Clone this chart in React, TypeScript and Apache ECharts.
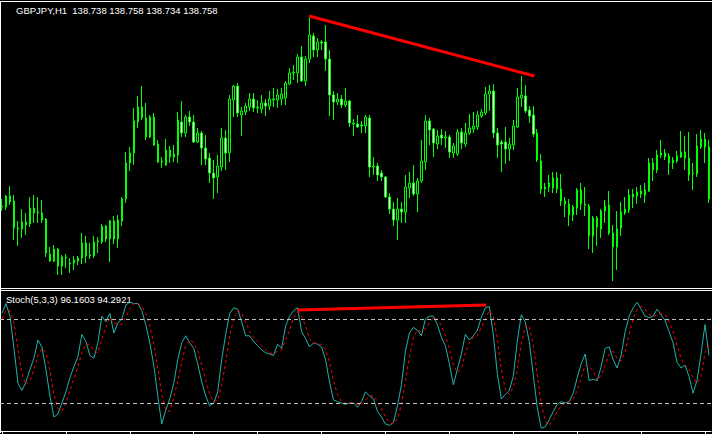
import React, { useEffect, useRef } from "react";
import * as echarts from "echarts";

// GBPJPY H1 candles (prices)
const openP = [
  138.93, 138.93, 139.04, 138.99, 138.72, 138.71, 138.78, 138.76, 138.92, 138.87,
  138.87, 138.81, 138.46, 138.39, 138.51, 138.34, 138.43, 138.37, 138.37, 138.39,
  138.42, 138.57, 138.44, 138.44, 138.58, 138.58, 138.74, 138.61, 138.79, 138.61,
  138.79, 139.01, 139.37, 139.47, 139.78, 139.93, 139.82, 139.63, 139.83, 139.56,
  139.38, 139.35, 139.5, 139.43, 139.45, 139.78, 139.67, 139.83, 139.78, 139.58,
  139.67, 139.52, 139.42, 139.27, 139.23, 139.33, 139.62, 139.47, 140.0, 140.14,
  139.85, 139.88, 139.93, 140.01, 139.92, 139.91, 139.97, 139.94, 140.0, 140.0,
  140.01, 140.02, 140.16, 140.27, 140.27, 140.43, 140.19, 140.41, 140.64, 140.5,
  140.58, 140.58, 140.41, 140.05, 139.98, 140.01, 139.95, 139.99, 139.76, 139.76,
  139.75, 139.74, 139.82, 139.33, 139.34, 139.27, 139.23, 139.03, 138.91, 138.8,
  138.91, 138.88, 139.12, 139.17, 139.06, 139.19, 139.38, 139.79, 139.71, 139.56,
  139.65, 139.62, 139.63, 139.47, 139.46, 139.68, 139.56, 139.67, 139.71, 139.73,
  139.84, 139.87, 140.06, 140.09, 139.67, 139.58, 139.58, 139.51, 139.55, 139.73,
  140.02, 140.04, 139.9, 139.85, 139.67, 139.39, 139.11, 139.13, 139.12, 139.22,
  139.11, 138.99, 138.96, 138.85, 138.92, 139.1, 138.96, 138.94, 138.64, 138.82,
  138.71, 138.89, 138.95, 138.67, 138.53, 138.72, 138.87, 138.9, 139.03, 139.04,
  139.06, 139.05, 139.09, 139.37, 139.3, 139.45, 139.47, 139.44, 139.37, 139.39,
  139.43, 139.48, 139.42, 139.27, 139.26, 139.53, 139.61, 139.53,
];
const closeP = [
  138.94, 139.04, 138.98, 138.72, 138.71, 138.78, 138.75, 138.92, 138.87, 138.88,
  138.8, 138.47, 138.39, 138.51, 138.34, 138.43, 138.42, 138.36, 138.4, 138.42,
  138.57, 138.44, 138.45, 138.58, 138.59, 138.74, 138.61, 138.79, 138.61, 138.8,
  139.01, 139.37, 139.47, 139.79, 139.93, 139.82, 139.63, 139.83, 139.55, 139.38,
  139.39, 139.5, 139.43, 139.46, 139.8, 139.67, 139.83, 139.78, 139.58, 139.67,
  139.52, 139.41, 139.27, 139.22, 139.34, 139.62, 139.47, 140.01, 140.14, 139.87,
  139.89, 139.94, 140.01, 139.92, 139.93, 139.97, 139.94, 140.01, 140.01, 140.05,
  140.06, 140.17, 140.27, 140.28, 140.43, 140.19, 140.41, 140.65, 140.5, 140.58,
  140.57, 140.41, 140.05, 139.98, 140.01, 139.95, 139.99, 139.77, 139.77, 139.73,
  139.74, 139.83, 139.33, 139.34, 139.25, 139.23, 139.03, 138.91, 138.8, 138.91,
  138.88, 139.13, 139.17, 139.06, 139.19, 139.39, 139.79, 139.7, 139.57, 139.64,
  139.62, 139.63, 139.48, 139.54, 139.68, 139.57, 139.67, 139.72, 139.74, 139.85,
  139.88, 140.06, 140.09, 139.67, 139.55, 139.56, 139.51, 139.56, 139.74, 140.03,
  140.05, 139.89, 139.84, 139.66, 139.4, 139.11, 139.13, 139.17, 139.22, 139.11,
  138.99, 138.96, 138.85, 138.93, 139.1, 138.96, 138.95, 138.64, 138.82, 138.73,
  138.89, 138.94, 138.67, 138.53, 138.71, 138.88, 138.91, 139.05, 139.06, 139.08,
  139.09, 139.1, 139.37, 139.3, 139.45, 139.47, 139.43, 139.37, 139.4, 139.44,
  139.48, 139.42, 139.25, 139.26, 139.54, 139.61, 139.53, 139.01,
];
const highP = [
  139.01, 139.05, 139.14, 139.05, 138.79, 138.91, 138.87, 139.03, 139.05, 139.03,
  139.0, 138.82, 138.53, 138.55, 138.52, 138.45, 138.46, 138.42, 138.44, 138.44,
  138.67, 138.64, 138.57, 138.64, 138.63, 138.76, 138.75, 138.8, 138.84, 138.85,
  139.03, 139.48, 139.53, 139.92, 140.04, 140.14, 139.97, 139.85, 139.87, 139.6,
  139.43, 139.61, 139.54, 139.55, 139.88, 139.99, 139.85, 139.89, 139.85, 139.72,
  139.69, 139.65, 139.47, 139.4, 139.45, 139.72, 139.7, 140.05, 140.15, 140.17,
  139.93, 139.97, 140.07, 140.07, 140.0, 140.05, 140.01, 140.09, 140.12, 140.11,
  140.12, 140.19, 140.32, 140.35, 140.46, 140.54, 140.44, 140.83, 140.67, 140.62,
  140.6, 140.75, 140.5, 140.09, 140.07, 140.05, 140.12, 140.0, 139.81, 139.85,
  139.79, 139.85, 139.85, 139.43, 139.37, 139.3, 139.24, 139.07, 138.98, 139.02,
  138.98, 139.25, 139.28, 139.35, 139.22, 139.6, 139.85, 139.82, 139.72, 139.7,
  139.71, 139.69, 139.65, 139.57, 139.71, 139.72, 139.77, 139.86, 139.88, 139.89,
  139.91, 140.13, 140.15, 140.16, 139.72, 139.6, 139.73, 139.62, 139.8, 140.12,
  140.24, 140.15, 139.94, 139.94, 139.71, 139.46, 139.17, 139.25, 139.28, 139.28,
  139.26, 139.03, 139.01, 138.95, 139.12, 139.17, 139.13, 138.96, 138.84, 138.84,
  138.91, 139.0, 139.09, 138.75, 138.89, 138.98, 139.03, 139.11, 139.11, 139.13,
  139.15, 139.17, 139.42, 139.42, 139.5, 139.6, 139.51, 139.47, 139.43, 139.49,
  139.69, 139.64, 139.68, 139.37, 139.66, 139.7, 139.67, 139.6,
];
const lowP = [
  138.89, 138.9, 138.95, 138.6, 138.54, 138.62, 138.65, 138.73, 138.77, 138.77,
  138.77, 138.43, 138.38, 138.38, 138.25, 138.25, 138.32, 138.27, 138.3, 138.35,
  138.36, 138.37, 138.41, 138.42, 138.47, 138.56, 138.58, 138.38, 138.56, 138.52,
  138.74, 138.97, 139.29, 139.35, 139.72, 139.8, 139.6, 139.62, 139.54, 139.37,
  139.32, 139.34, 139.37, 139.38, 139.37, 139.63, 139.63, 139.74, 139.57, 139.57,
  139.35, 139.35, 139.17, 139.01, 139.07, 139.29, 139.3, 139.38, 139.83, 139.83,
  139.64, 139.85, 139.89, 139.88, 139.87, 139.87, 139.84, 139.9, 139.93, 139.92,
  139.95, 139.95, 140.15, 140.2, 140.17, 140.18, 140.14, 140.37, 140.43, 140.43,
  140.5, 140.29, 139.84, 139.8, 139.95, 139.92, 139.93, 139.73, 139.64, 139.72,
  139.67, 139.67, 139.23, 139.25, 139.19, 139.19, 139.02, 138.86, 138.74, 138.6,
  138.77, 138.77, 139.02, 139.04, 138.88, 139.17, 139.3, 139.55, 139.43, 139.51,
  139.55, 139.52, 139.42, 139.42, 139.44, 139.51, 139.53, 139.65, 139.67, 139.7,
  139.82, 139.85, 139.89, 139.62, 139.42, 139.28, 139.36, 139.39, 139.5, 139.72,
  139.93, 139.87, 139.77, 139.63, 139.38, 139.06, 139.03, 139.08, 139.07, 139.07,
  138.94, 138.83, 138.74, 138.79, 138.85, 138.9, 138.84, 138.51, 138.47, 138.54,
  138.62, 138.77, 138.65, 138.19, 138.3, 138.64, 138.85, 138.87, 138.92, 138.96,
  139.02, 138.97, 139.08, 139.19, 139.27, 139.42, 139.4, 139.25, 139.31, 139.37,
  139.42, 139.3, 139.19, 139.1, 139.23, 139.51, 139.37, 138.97,
];

// Stochastic(5,3,3)
const stochK = [
  84, 91, 82, 59, 34, 29, 35, 44, 52, 65,
  60, 44, 25, 10, 12, 20, 28, 38, 46, 53,
  69, 64, 54, 52, 63, 82, 78, 84, 70, 77,
  80, 90, 92, 91, 91, 86, 76, 63, 47, 25,
  5, 15, 23, 34, 51, 63, 68, 63, 59, 48,
  35, 25, 18, 20, 28, 51, 69, 84, 88, 87,
  78, 68, 68, 64, 61, 58, 56, 55, 54, 62,
  59, 75, 82, 86, 88, 71, 66, 60, 63, 62,
  60, 51, 35, 22, 21, 20, 19, 20, 20, 17,
  21, 28, 25, 23, 14, 10, 5, 4, 6, 18,
  33, 57, 70, 74, 72, 68, 80, 82, 82, 76,
  67, 61, 48, 33, 44, 55, 69, 65, 68, 72,
  81, 88, 89, 69, 41, 23, 26, 29, 39, 64,
  83, 78, 64, 40, 17, 2, 3, 8, 14, 19,
  21, 20, 21, 27, 38, 48, 55, 36, 37, 36,
  46, 59, 60, 51, 45, 54, 71, 82, 88, 92,
  87, 82, 81, 82, 87, 83, 79, 71, 63, 49,
  45, 47, 39, 27, 36, 55, 76, 54,
];
const stochD = [
  80, 86, 86, 77, 58, 41, 33, 36, 44, 54,
  59, 56, 43, 26, 16, 14, 20, 29, 37, 46,
  56, 62, 62, 57, 56, 66, 74, 81, 77, 77,
  76, 82, 87, 91, 91, 89, 84, 75, 62, 45,
  26, 15, 14, 24, 36, 49, 61, 65, 63, 57,
  47, 36, 26, 21, 22, 33, 49, 68, 80, 86,
  84, 78, 71, 67, 64, 61, 58, 56, 55, 57,
  58, 65, 72, 81, 85, 82, 75, 66, 63, 62,
  62, 58, 49, 36, 26, 21, 20, 20, 20, 19,
  19, 22, 25, 25, 21, 16, 10, 6, 5, 9,
  19, 36, 53, 67, 72, 71, 73, 77, 81, 80,
  75, 68, 59, 47, 42, 44, 56, 63, 67, 68,
  74, 80, 86, 82, 66, 44, 30, 26, 31, 44,
  62, 75, 75, 61, 40, 20, 7, 4, 8, 14,
  18, 20, 21, 23, 29, 38, 47, 46, 43, 36,
  40, 47, 55, 57, 52, 50, 57, 69, 80, 87,
  89, 87, 83, 82, 83, 84, 83, 78, 71, 61,
  52, 47, 44, 38, 34, 39, 56, 62,
];
const stochLevels = [20, 80];

// hand-drawn divergence lines: [bar position, value]
const priceTrend = [
  [77.375, 140.84],
  [133.75, 140.24],
];
const stochTrend = [
  [74.5, 86.4],
  [121.75, 90],
];

const titleText = "GBPJPY,H1  138.738 138.758 138.734 138.758";
const stochText = "Stoch(5,3,3) 96.1603 94.2921";

export default function App() {
  const ref = useRef<HTMLDivElement>(null);
  useEffect(() => {
    document.body.style.margin = "0";
    document.body.style.background = "#000";
    const chart = echarts.init(ref.current!, null, { renderer: "svg" });
    const n = openP.length;
    const cats = openP.map((_, i) => String(i));
    const candles = openP.map((o, i) => [o, closeP[i], lowP[i], highP[i]]);
    const white = "#ffffff";
    const font = '9.5px "Liberation Sans", Arial, sans-serif';
    chart.setOption({
      animation: false,
      backgroundColor: "#000000",
      grid: [
        { left: -1, top: 2, width: 712, height: 286 },
        { left: -1, top: 291, width: 712, height: 140 },
      ],
      xAxis: [
        { type: "category", gridIndex: 0, data: cats, show: false },
        {
          type: "category",
          gridIndex: 1,
          data: cats,
          offset: 1,
          axisLine: { show: true, lineStyle: { color: white, width: 1 } },
          axisTick: {
            show: true,
            alignWithLabel: true,
            interval: 15,
            length: 3,
            lineStyle: { color: white },
          },
          axisLabel: { show: false },
          splitLine: { show: false },
        },
        { type: "value", gridIndex: 0, min: 0, max: n, show: false },
        { type: "value", gridIndex: 1, min: 0, max: n, show: false },
      ],
      yAxis: [
        { type: "value", gridIndex: 0, min: 138.12, max: 140.98, show: false },
        { type: "value", gridIndex: 1, min: 0, max: 100, show: false },
      ],
      series: [
        {
          type: "candlestick",
          xAxisIndex: 0,
          yAxisIndex: 0,
          data: candles,
          barWidth: 2,
          itemStyle: {
            color: "#000000",
            color0: "#ffffff",
            borderColor: "#00ff00",
            borderColor0: "#00ff00",
            borderWidth: 1,
          },
        },
        {
          type: "line",
          xAxisIndex: 2,
          yAxisIndex: 0,
          data: priceTrend,
          symbol: "none",
          lineStyle: { color: "#ff0000", width: 3 },
          z: 5,
        },
        {
          type: "line",
          xAxisIndex: 1,
          yAxisIndex: 1,
          data: stochK,
          symbol: "none",
          lineStyle: { color: "#20b2aa", width: 1 },
          markLine: {
            silent: true,
            symbol: "none",
            label: { show: false },
            lineStyle: { color: "#c0c0c0", type: [4, 3], width: 1 },
            data: stochLevels.map((v) => ({ yAxis: v })),
          },
        },
        {
          type: "line",
          xAxisIndex: 1,
          yAxisIndex: 1,
          data: stochD,
          symbol: "none",
          lineStyle: { color: "#ff0000", width: 1, type: [3, 3] },
        },
        {
          type: "line",
          xAxisIndex: 3,
          yAxisIndex: 1,
          data: stochTrend,
          symbol: "none",
          lineStyle: { color: "#ff0000", width: 3 },
          z: 5,
        },
      ],
      graphic: [
        { type: "line", shape: { x1: 0, y1: 1.5, x2: 712, y2: 1.5 }, style: { stroke: white, lineWidth: 1 } },
        { type: "line", shape: { x1: 0.5, y1: 1, x2: 0.5, y2: 433 }, style: { stroke: white, lineWidth: 1 } },
        { type: "line", shape: { x1: 0, y1: 288.5, x2: 712, y2: 288.5 }, style: { stroke: white, lineWidth: 1 } },
        { type: "line", shape: { x1: 0, y1: 290.5, x2: 712, y2: 290.5 }, style: { stroke: white, lineWidth: 1 } },
        {
          type: "text",
          x: 16,
          y: 10,
          style: { text: titleText, fill: white, font, verticalAlign: "middle" },
        },
        {
          type: "text",
          x: 6,
          y: 299.5,
          style: { text: stochText, fill: white, font, verticalAlign: "middle" },
        },
      ],
    });
    return () => chart.dispose();
  }, []);
  return (
    <div
      ref={ref}
      style={{ position: "fixed", left: 0, top: 0, width: 712, height: 434, background: "#000" }}
    />
  );
}
